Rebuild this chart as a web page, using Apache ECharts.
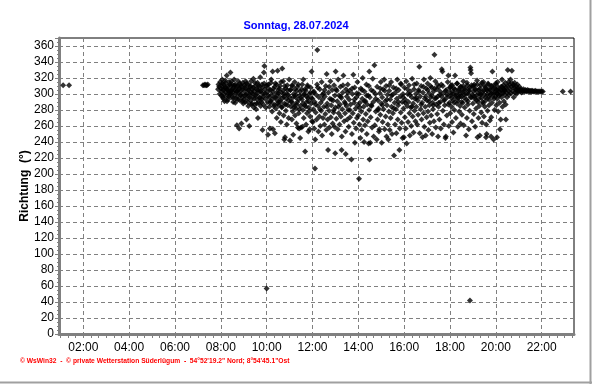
<!DOCTYPE html>
<html>
<head>
<meta charset="utf-8">
<script src="https://cdn.jsdelivr.net/npm/echarts@6/dist/echarts.min.js"></script>
<style>html,body{margin:0;padding:0;background:#fff}#c{width:592px;height:384px}</style>
</head>
<body>
<div id="c"></div>
<script>
// Wind direction (°) vs. time of day (hours)
const titleText = 'Sonntag, 28.07.2024';
const yAxisName = 'Richtung  (°)';
const footerText = '\u00a9 WsWin32  -  \u00a9 private Wetterstation S\u00fcderl\u00fcgum  -  54\u00b052\'19.2" Nord; 8\u00b054\'45.1"Ost';
const xLabelHours = [2,4,6,8,10,12,14,16,18,20,22];
const xLabels = ['02:00','04:00','06:00','08:00','10:00','12:00','14:00','16:00','18:00','20:00','22:00'];

const early = [[1.12,311],[1.38,311],[7.22,311],[7.27,311],[7.31,312],[7.35,311],[7.39,311],[7.43,312]];
const hour08 = [[7.88,306],[7.9,312],[7.93,309],[7.95,300],[7.97,315],[8.0,307],[8.02,303],[8.04,310],[8.06,318],[8.08,296],[8.1,305],[8.12,312],[8.14,300],[8.16,291],[8.18,308],[8.2,314],[8.22,302],[8.24,297],[8.26,323],[8.28,306],[8.3,310],[8.32,293],[8.34,301],[8.36,315],[8.38,305],[8.4,299],[8.42,327],[8.44,310],[8.46,304],[8.48,296],
 [8.5,312],[8.52,302],[8.54,290],[8.56,308],[8.58,318],[8.6,299],[8.62,305],[8.64,312],[8.66,294],[8.68,303],[8.7,261],[8.72,310],[8.74,297],[8.76,316],[8.78,302],[8.8,257],[8.82,307],[8.84,292],[8.86,311],[8.88,300],[8.9,263],[8.92,305],[8.94,296],[8.96,314],[8.98,288]];
const core08 = [[8.03,298],[8.07,313],[8.11,294],[8.15,306],[8.19,317],[8.23,308],[8.27,291],[8.31,304],[8.35,297],[8.39,312],[8.43,301],[8.47,316],[8.51,306],[8.55,295],[8.59,311],[8.63,289],[8.67,309],[8.71,303],[8.75,293],[8.79,306],[8.83,313],[8.87,298],[8.91,309],[8.95,291]];
const hour09 = [[9.0,304],[9.02,311],[9.04,298],[9.06,290],[9.08,316],[9.1,307],[9.12,268],[9.14,301],[9.16,295],[9.18,312],[9.2,285],[9.22,305],[9.24,260],[9.26,299],[9.28,309],[9.3,292],[9.32,316],[9.34,302],[9.36,288],[9.38,306],[9.4,296],[9.42,319],[9.44,283],[9.46,303],[9.48,287],
 [9.5,310],[9.52,298],[9.54,281],[9.56,306],[9.58,293],[9.6,314],[9.62,270],[9.64,302],[9.66,289],[9.68,309],[9.7,296],[9.72,321],[9.74,285],[9.76,304],[9.78,293],[9.8,312],[9.82,255],[9.84,300],[9.86,287],[9.88,327],[9.9,335],[9.92,306],[9.94,294],[9.96,283],[9.98,310]];
const core09 = [[9.01,293],[9.05,308],[9.09,299],[9.13,313],[9.17,290],[9.21,305],[9.25,296],[9.29,310],[9.33,287],[9.37,301],[9.41,308],[9.45,294],[9.49,314],[9.53,299],[9.57,288],[9.61,305],[9.65,311],[9.69,295],[9.73,303],[9.77,290],[9.81,308],[9.85,297],[9.89,313],[9.93,301]];
const hour10 = [[10.0,57],[10.02,302],[10.04,290],[10.06,249],[10.08,312],[10.1,296],[10.12,284],[10.14,257],[10.16,305],[10.18,291],[10.2,318],[10.22,299],[10.24,278],[10.26,328],[10.28,256],[10.3,307],[10.32,287],[10.34,296],[10.36,251],[10.38,313],[10.4,282],[10.42,301],[10.44,270],[10.46,292],[10.48,329],
 [10.5,305],[10.52,286],[10.54,297],[10.56,276],[10.58,310],[10.6,290],[10.62,265],[10.64,302],[10.66,283],[10.68,332],[10.7,295],[10.72,316],[10.74,273],[10.76,300],[10.77,243],[10.78,288],[10.8,246],[10.82,307],[10.84,279],[10.86,294],[10.88,262],[10.9,311],[10.92,286],[10.94,299],[10.96,270],[10.98,318]];
const core10 = [[10.03,311],[10.07,298],[10.11,306],[10.15,289],[10.19,314],[10.23,293],[10.27,303],[10.31,285],[10.35,309],[10.39,296],[10.43,312],[10.47,288],[10.51,301],[10.55,307],[10.59,292],[10.63,315],[10.67,284],[10.71,304],[10.75,297],[10.79,310],[10.83,287],[10.87,300],[10.91,305],[10.95,292]];
const hour11 = [[11.0,296],[11.02,242],[11.04,305],[11.06,284],[11.08,291],[11.1,268],[11.12,310],[11.14,278],[11.16,249],[11.18,300],[11.2,287],[11.22,315],[11.24,273],[11.26,296],[11.28,282],[11.3,263],[11.32,304],[11.34,290],[11.36,258],[11.38,312],[11.4,276],[11.42,257],[11.44,298],[11.46,245],[11.48,285],
 [11.5,258],[11.52,306],[11.54,293],[11.56,259],[11.58,280],[11.6,318],[11.62,270],[11.64,299],[11.66,286],[11.68,228],[11.7,304],[11.72,262],[11.74,290],[11.76,276],[11.78,311],[11.8,295],[11.82,253],[11.84,283],[11.86,300],[11.88,256],[11.9,272],[11.92,308],[11.94,288],[11.96,328],[11.98,266]];
const core11 = [[11.03,305],[11.07,290],[11.11,311],[11.15,296],[11.19,283],[11.23,306],[11.27,299],[11.31,287],[11.35,309],[11.39,293],[11.43,281],[11.47,303],[11.51,296],[11.55,312],[11.59,288],[11.63,300],[11.67,306],[11.71,284],[11.75,297],[11.79,309],[11.83,291],[11.87,279],[11.91,302],[11.95,295]];
const hour12 = [[12.0,294],[12.02,265],[12.04,281],[12.06,303],[12.08,257],[12.1,290],[12.11,207],[12.12,243],[12.14,277],[12.16,299],[12.18,268],[12.2,312],[12.21,355],[12.24,285],[12.26,253],[12.28,296],[12.3,272],[12.32,306],[12.34,260],[12.36,289],[12.38,279],[12.4,315],[12.42,248],[12.44,293],[12.46,270],[12.48,301],
 [12.5,284],[12.52,262],[12.54,297],[12.56,275],[12.58,310],[12.6,255],[12.62,325],[12.64,288],[12.66,268],[12.68,230],[12.7,302],[12.72,279],[12.74,258],[12.76,294],[12.78,316],[12.8,271],[12.82,286],[12.84,250],[12.86,305],[12.88,263],[12.9,292],[12.92,277],[12.94,311],[12.96,259],[12.98,298],[12.99,226]];
const core12 = [[12.05,302],[12.13,287],[12.23,308],[12.33,281],[12.43,299],[12.53,305],[12.63,284],[12.73,309],[12.83,293],[12.93,280]];
const hour13 = [[13.0,283],[13.01,328],[13.04,269],[13.06,304],[13.08,291],[13.1,256],[13.12,318],[13.14,276],[13.16,298],[13.18,262],[13.2,287],[13.22,309],[13.24,272],[13.26,295],[13.27,230],[13.28,247],[13.3,281],[13.32,302],[13.35,323],[13.38,266],[13.4,290],[13.42,276],[13.44,253],[13.45,225],[13.46,306],[13.48,285],
 [13.5,297],[13.52,268],[13.54,312],[13.56,280],[13.58,259],[13.6,293],[13.62,304],[13.64,271],[13.66,287],[13.7,218],[13.72,250],[13.74,300],[13.76,276],[13.78,324],[13.8,264],[13.82,289],[13.84,308],[13.85,239],[13.88,282],[13.9,257],[13.92,296],[13.94,270],[13.96,315],[13.98,286]];
const core13 = [[13.03,306],[13.13,284],[13.23,297],[13.33,311],[13.43,288],[13.53,302],[13.63,280],[13.73,307],[13.83,293],[13.93,301]];
const hour14 = [[14.0,273],[14.02,300],[14.03,194],[14.05,262],[14.07,289],[14.09,245],[14.11,307],[14.13,278],[14.15,255],[14.17,294],[14.19,320],[14.21,268],[14.23,284],[14.25,240],[14.27,303],[14.29,261],[14.31,291],[14.33,275],[14.35,312],[14.37,250],[14.39,287],[14.41,266],[14.43,298],[14.45,238],[14.47,280],[14.48,328],[14.49,218],
 [14.5,296],[14.52,239],[14.54,271],[14.56,305],[14.58,285],[14.6,258],[14.63,319],[14.65,290],[14.67,247],[14.7,336],[14.72,261],[14.74,300],[14.76,278],[14.8,243],[14.82,309],[14.84,268],[14.86,292],[14.88,282],[14.9,253],[14.92,256],[14.94,301],[14.96,274],[14.98,315]];
const core14 = [[14.06,283],[14.16,305],[14.26,291],[14.36,298],[14.46,310],[14.56,286],[14.66,303],[14.76,294],[14.86,280],[14.96,307]];
const hour15 = [[15.0,288],[15.02,239],[15.04,296],[15.06,265],[15.08,306],[15.1,281],[15.13,318],[15.15,256],[15.17,291],[15.19,272],[15.21,310],[15.23,247],[15.25,286],[15.27,299],[15.29,262],[15.31,243],[15.33,278],[15.35,304],[15.37,255],[15.39,293],[15.41,270],[15.43,315],[15.45,284],[15.47,250],[15.49,299],
 [15.51,276],[15.53,308],[15.56,223],[15.58,289],[15.6,262],[15.62,302],[15.64,281],[15.66,251],[15.68,294],[15.7,318],[15.72,268],[15.74,286],[15.76,305],[15.79,230],[15.81,257],[15.83,297],[15.85,277],[15.87,312],[15.89,264],[15.91,290],[15.93,245],[15.95,300],[15.97,282],[15.99,246]];
const core15 = [[15.05,286],[15.15,304],[15.25,293],[15.35,311],[15.45,298],[15.55,282],[15.65,307],[15.75,290],[15.85,313],[15.95,296]];
const hour16 = [[16.01,308],[16.03,271],[16.05,293],[16.07,257],[16.09,316],[16.11,238],[16.13,285],[16.15,300],[16.17,265],[16.19,290],[16.21,311],[16.23,276],[16.25,248],[16.27,303],[16.29,283],[16.31,260],[16.33,296],[16.35,319],[16.37,272],[16.39,288],[16.41,252],[16.43,306],[16.45,279],[16.47,294],[16.49,266],
 [16.51,300],[16.53,284],[16.55,313],[16.57,262],[16.59,292],[16.61,274],[16.63,305],[16.66,334],[16.68,251],[16.7,297],[16.72,281],[16.74,310],[16.76,268],[16.78,289],[16.8,246],[16.82,302],[16.84,276],[16.86,318],[16.88,259],[16.9,294],[16.92,284],[16.94,248],[16.96,307],[16.98,271]];
const core16 = [[16.04,289],[16.14,306],[16.24,299],[16.34,284],[16.44,312],[16.54,295],[16.64,303],[16.74,287],[16.84,309],[16.94,297]];
const hour17 = [[17.0,292],[17.02,313],[17.04,278],[17.06,255],[17.08,301],[17.1,286],[17.12,264],[17.14,320],[17.16,296],[17.18,273],[17.2,308],[17.22,250],[17.24,289],[17.26,281],[17.28,303],[17.3,266],[17.32,349],[17.34,294],[17.36,316],[17.38,258],[17.4,287],[17.42,306],[17.44,275],[17.46,297],[17.48,247],
 [17.5,284],[17.52,309],[17.54,268],[17.56,299],[17.58,290],[17.6,257],[17.62,312],[17.64,331],[17.67,328],[17.69,279],[17.71,301],[17.73,262],[17.75,293],[17.77,286],[17.8,245],[17.82,247],[17.84,305],[17.86,273],[17.88,296],[17.9,315],[17.93,323],[17.95,260],[17.97,289],[17.99,302]];
const core17 = [[17.03,305],[17.09,291],[17.15,310],[17.21,298],[17.27,286],[17.33,307],[17.39,295],[17.45,312],[17.51,289],[17.57,303],[17.63,297],[17.69,310],[17.75,292],[17.81,304],[17.87,299],[17.93,287],[17.99,308]];
const hour18 = [[18.01,276],[18.03,298],[18.05,311],[18.07,284],[18.09,265],[18.11,303],[18.13,292],[18.15,252],[18.17,307],[18.19,280],[18.22,323],[18.24,296],[18.26,270],[18.28,301],[18.3,288],[18.32,313],[18.34,259],[18.36,295],[18.38,306],[18.4,278],[18.42,300],[18.44,285],[18.46,263],[18.48,309],
 [18.5,297],[18.52,274],[18.54,304],[18.56,289],[18.58,316],[18.6,261],[18.62,299],[18.64,283],[18.66,307],[18.7,248],[18.72,293],[18.74,270],[18.76,311],[18.78,287],[18.8,300],[18.82,256],[18.84,305],[18.86,279],[18.87,42],[18.89,333],[18.9,330],[18.92,326],[18.94,296],[18.96,266],[18.98,309]];
const core18 = [[18.02,308],[18.06,295],[18.1,311],[18.14,300],[18.18,289],[18.22,306],[18.26,298],[18.3,313],[18.34,292],[18.38,304],[18.42,297],[18.46,309],[18.5,290],[18.54,302],[18.58,310],[18.62,295],[18.66,305],[18.7,300],[18.74,314],[18.78,291],[18.82,303],[18.86,308],[18.9,296],[18.94,311],[18.98,299]];
const hour19 = [[19.0,288],[19.02,303],[19.04,275],[19.06,312],[19.08,294],[19.1,259],[19.12,306],[19.14,282],[19.16,298],[19.18,317],[19.2,246],[19.22,290],[19.24,270],[19.26,305],[19.28,285],[19.3,248],[19.32,300],[19.34,311],[19.36,277],[19.38,295],[19.4,264],[19.42,303],[19.44,288],[19.46,315],[19.48,272],
 [19.5,299],[19.52,284],[19.54,308],[19.56,292],[19.57,246],[19.58,262],[19.6,250],[19.62,304],[19.64,279],[19.66,313],[19.68,296],[19.7,286],[19.72,306],[19.74,267],[19.76,299],[19.79,247],[19.8,271],[19.81,310],[19.83,289],[19.85,328],[19.87,302],[19.9,243],[19.92,294],[19.94,280],[19.96,307],[19.98,297]];
const core19 = [[19.03,310],[19.07,297],[19.11,305],[19.15,292],[19.19,312],[19.23,301],[19.27,294],[19.31,307],[19.35,299],[19.39,314],[19.43,290],[19.47,304],[19.51,310],[19.55,296],[19.59,306],[19.63,300],[19.67,312],[19.71,293],[19.75,305],[19.79,301],[19.83,310],[19.87,297],[19.91,307],[19.95,302],[19.99,313]];
const hour20 = [[20.0,312],[20.02,286],[20.04,301],[20.05,246],[20.06,294],[20.08,315],[20.1,278],[20.12,305],[20.14,298],[20.16,289],[20.18,256],[20.21,268],[20.23,309],[20.25,296],[20.27,318],[20.29,284],[20.31,303],[20.33,311],[20.35,291],[20.37,306],[20.39,299],[20.41,314],[20.43,287],[20.44,268],[20.45,308],[20.47,302],[20.49,296],
 [20.5,310],[20.52,330],[20.54,304],[20.56,315],[20.58,299],[20.6,312],[20.62,306],[20.64,318],[20.66,301],[20.68,309],[20.7,329],[20.72,313],[20.74,303],[20.76,311],[20.78,296],[20.8,308],[20.82,314],[20.84,302],[20.86,306],[20.88,310],[20.9,300],[20.92,305],[20.94,312],[20.96,303],[20.98,307]];
const core20 = [[20.03,305],[20.07,300],[20.11,308],[20.15,303],[20.19,299],[20.23,305],[20.27,309],[20.31,301],[20.35,306],[20.39,304]];
const hour21 = [[21.0,304],[21.03,309],[21.06,303],[21.09,306],[21.12,302],[21.15,305],[21.18,303],[21.21,306],[21.24,304],[21.27,303],[21.3,305],[21.33,304],[21.36,303],[21.39,305],[21.42,304],[21.45,303],[21.48,304],[21.51,303],[21.54,304],[21.57,303],[21.6,304],[21.64,303],[21.68,303],[21.72,304],[21.76,303],[21.8,303],[21.85,303],[21.9,303],[21.95,303],[22.0,303],[22.05,303],[22.92,303],[23.26,303]];

const allPoints = [].concat(early, hour08, core08, hour09, core09, hour10, core10, hour11, core11, hour12, core12,
  hour13, core13, hour14, core14, hour15, core15, hour16, core16, hour17, core17, hour18, core18, hour19, core19, hour20, core20, hour21);

// axis tick positions: every 20 minutes
const minorTickHours = [];
for (let k = 3; k <= 70; k++) minorTickHours.push(k / 3);

const X_MIN = 0.94, X_MAX = 23.41;
const grey = '#808080';
const font = 'Liberation Sans, Arial, sans-serif';

const chart = echarts.init(document.getElementById('c'));
chart.setOption({
  animation: false,
  backgroundColor: '#ffffff',
  title: {
    text: titleText, left: 'center', top: 15,
    textStyle: { color: '#0000ff', fontSize: 11, fontWeight: 'bold', fontFamily: font }
  },
  grid: { left: 59, right: 18, top: 38, bottom: 50, show: true, borderColor: '#000', borderWidth: 1, backgroundColor: '#fff' },
  xAxis: [{
    type: 'value', min: X_MIN, max: X_MAX, position: 'bottom',
    axisLine: { show: true, onZero: false, lineStyle: { color: grey, width: 3 } },
    axisTick: { show: true, customValues: minorTickHours, length: 4, lineStyle: { color: grey, width: 1 } },
    axisLabel: {
      show: true, customValues: xLabelHours, margin: 8, color: '#000', fontSize: 12, fontFamily: font,
      formatter: v => { const i = xLabelHours.indexOf(Math.round(v)); return i >= 0 ? xLabels[i] : ''; }
    },
    splitLine: { show: false }
  }, {
    type: 'value', min: X_MIN, max: X_MAX, position: 'bottom',
    axisLine: { show: false },
    axisTick: { show: false, customValues: xLabelHours },
    axisLabel: { show: false },
    splitLine: { show: true, lineStyle: { color: grey, width: 1, type: [4, 3] } }
  }],
  yAxis: {
    type: 'value', min: 0, max: 370, interval: 20,
    name: yAxisName, nameLocation: 'middle', nameGap: 28, nameMoveOverlap: false,
    nameTextStyle: { color: '#000', fontWeight: 'bold', fontSize: 12, fontFamily: font },
    axisLine: { show: true, onZero: false, lineStyle: { color: grey, width: 3 } },
    axisTick: { show: true, length: 4, lineStyle: { color: grey } },
    minorTick: { show: true, splitNumber: 4, length: 2, lineStyle: { color: grey } },
    axisLabel: { color: '#000', fontSize: 12, margin: 5, fontFamily: font, showMaxLabel: false },
    splitLine: { show: true, showMinLine: false, showMaxLine: false, lineStyle: { color: grey, width: 1, type: [4, 3] } }
  },
  graphic: [
    { type: 'text', left: 20, top: 358, style: { text: footerText, fill: '#ff0000', font: 'bold 6.7px ' + font } },
    { type: 'line', shape: { x1: 590.5, y1: 0, x2: 590.5, y2: 384 }, style: { stroke: '#a0a0a0', lineWidth: 2 } },
    { type: 'line', shape: { x1: 0, y1: 382.5, x2: 592, y2: 382.5 }, style: { stroke: '#a0a0a0', lineWidth: 2 } }
  ],
  series: [{
    type: 'scatter', xAxisIndex: 0, data: allPoints,
    symbol: 'diamond', symbolSize: 6,
    itemStyle: { color: '#000' }, emphasis: { disabled: true }
  }]
});
</script>
</body>
</html>
